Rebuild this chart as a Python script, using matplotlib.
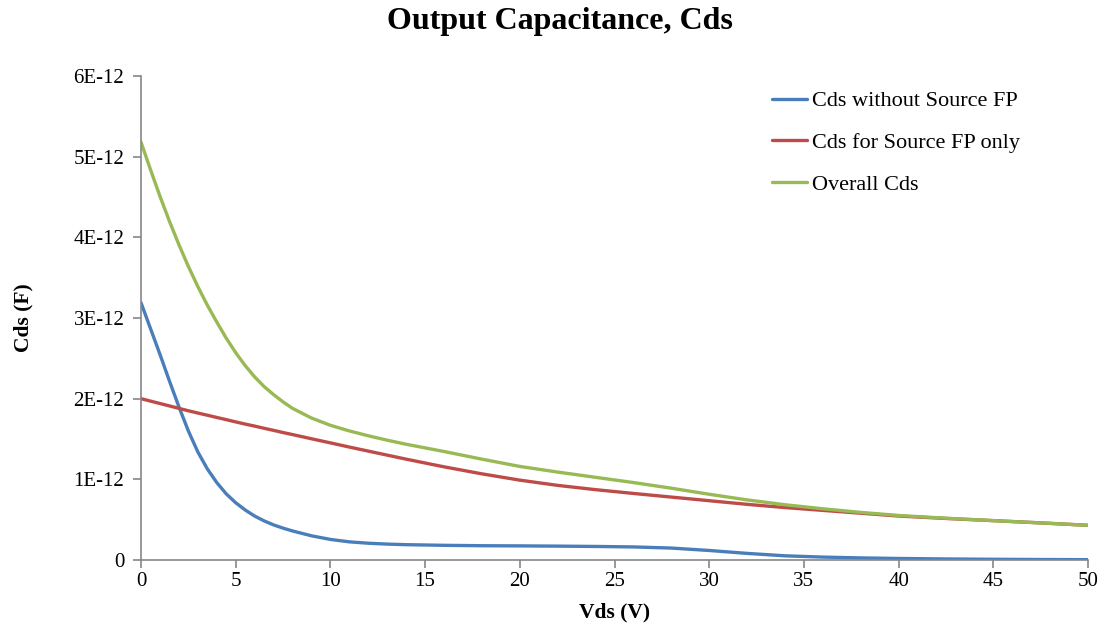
import matplotlib
matplotlib.use('Agg')
import matplotlib.pyplot as plt
from matplotlib.ticker import FuncFormatter, MultipleLocator

# Vds (V)
vds = [0, 0.5, 1, 1.5, 2, 2.5, 3, 3.5, 4, 4.5, 5, 5.5, 6, 6.5, 7, 7.5, 8,
       9, 10, 11, 12, 13, 14, 16, 18, 20, 22, 24, 26, 28, 30, 32, 34, 36, 38, 40,
       42.5, 45, 47.5, 50]

# capacitances in units of 1E-12 F
cds_no_fp = [3.19, 2.87, 2.55, 2.22, 1.90, 1.60, 1.34, 1.13, 0.96, 0.82, 0.71, 0.62,
             0.545, 0.485, 0.435, 0.395, 0.36,
             0.30, 0.255, 0.225, 0.208, 0.197, 0.19, 0.182, 0.177, 0.175, 0.172,
             0.168, 0.162, 0.148, 0.118, 0.082, 0.052, 0.036, 0.026, 0.019,
             0.013, 0.009, 0.006, 0.004]
cds_fp_only = [2.00, 1.97, 1.94, 1.91, 1.88, 1.85, 1.822, 1.795, 1.767, 1.74, 1.712,
               1.685, 1.66, 1.633, 1.607, 1.58, 1.555,
               1.503, 1.452, 1.40, 1.35, 1.30, 1.25, 1.155, 1.068, 0.99, 0.925,
               0.872, 0.825, 0.78, 0.735, 0.69, 0.65, 0.615, 0.58, 0.545,
               0.515, 0.488, 0.46, 0.43]
cds_overall = [5.18, 4.84, 4.51, 4.20, 3.91, 3.64, 3.39, 3.16, 2.95, 2.75, 2.57,
               2.41, 2.27, 2.15, 2.05, 1.96, 1.88,
               1.76, 1.67, 1.60, 1.54, 1.485, 1.435, 1.345, 1.25, 1.16, 1.09,
               1.025, 0.96, 0.89, 0.815, 0.745, 0.685, 0.635, 0.59, 0.552,
               0.518, 0.488, 0.46, 0.43]

series = [
    ('Cds without Source FP', cds_no_fp, '#4A7EBB'),
    ('Cds for Source FP only', cds_fp_only, '#BE4B48'),
    ('Overall Cds', cds_overall, '#98B954'),
]

plt.rcParams['font.family'] = ['Liberation Serif', 'DejaVu Serif']

fig = plt.figure(figsize=(11.02, 6.25), dpi=100)
ax = fig.add_axes([141 / 1102, 1 - 560 / 625, (1088 - 141) / 1102, (560 - 76) / 625])

for label, vals, color in series:
    ax.plot(vds, [v * 1e-12 for v in vals], color=color, lw=2.4, label=label,
            solid_capstyle='round', solid_joinstyle='round')

ax.set_xlim(0, 50)
ax.set_ylim(0, 6e-12)
ax.xaxis.set_major_locator(MultipleLocator(5))
ax.yaxis.set_major_locator(MultipleLocator(1e-12))


def sci_fmt(v, pos):
    n = round(v / 1e-12)
    return '0' if n == 0 else '%dE-12' % n


ax.yaxis.set_major_formatter(FuncFormatter(sci_fmt))
for side in ('top', 'right'):
    ax.spines[side].set_visible(False)
for side in ('left', 'bottom'):
    ax.spines[side].set_color('#868686')
    ax.spines[side].set_linewidth(1.2)
ax.tick_params(axis='both', direction='out', length=6, width=1.2, color='#868686',
               labelsize=15)
ax.tick_params(axis='y', pad=6)
ax.tick_params(axis='x', pad=3)

ax.set_xlabel('Vds (V)', fontsize=15.5, fontweight='bold', labelpad=8)
ax.set_ylabel('Cds (F)', fontsize=15.5, fontweight='bold', labelpad=29)
fig.suptitle('Output Capacitance, Cds', fontsize=23, fontweight='bold', x=0.508, y=0.988)

ax.legend(loc='upper left', bbox_to_anchor=(763 / 1102, 1 - 82 / 625),
          bbox_transform=fig.transFigure, frameon=False, fontsize=16,
          borderaxespad=0, handlelength=1.6, handletextpad=0.2, labelspacing=0.95)

fig.savefig('out.png', dpi=100)
